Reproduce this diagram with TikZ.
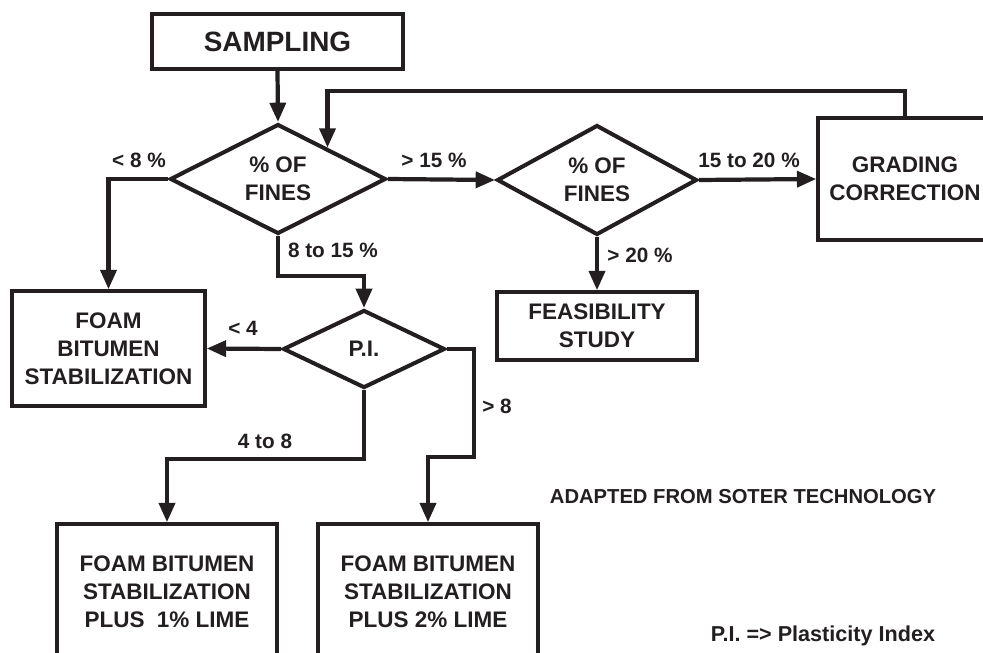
\documentclass[tikz,border=0pt]{standalone}
\usepackage{fontspec}
\setmainfont{Liberation Sans}
\usetikzlibrary{arrows.meta, positioning, shapes.geometric, calc}
\definecolor{cink}{HTML}{231F20}
\tikzset{
  every picture/.style={font=\bfseries, line width=2pt, draw=cink, text=cink},
  box/.style={draw=cink, rectangle, align=center, inner sep=0pt, font=\fontsize{12.8}{15.8}\selectfont\bfseries},
  test/.style={draw=cink, diamond, align=center, inner sep=0pt, line width=2.3pt, font=\fontsize{12.8}{15.8}\selectfont\bfseries},
  arrow/.style={-{Triangle[length=11pt, width=9pt]}, draw=cink, line width=2.4pt},
  lbl/.style={font=\fontsize{11.8}{14}\selectfont\bfseries, inner sep=0pt},
  note/.style={font=\fontsize{11.5}{14}\selectfont\bfseries, inner sep=0pt},
}
\begin{document}
\begin{tikzpicture}[x=0.02cm, y=-0.02cm]
  \useasboundingbox (0,0) rectangle (983,652);
  \clip (0,0) rectangle (983,652);
  % decision chain
  \node[box, minimum width=5.02cm, minimum height=1.1cm, font=\fontsize{15.9}{18}\selectfont\bfseries] (sampling) at (277.5,41.5) {SAMPLING};
  \node[test, minimum width=4.32cm, minimum height=2.06cm] (d1) at (278,179) {\% OF\\FINES};
  \node[test, minimum width=4.0cm, minimum height=2.08cm] (d2) at (597,180) {\% OF\\FINES};
  \node[test, minimum width=3.24cm, minimum height=1.56cm] (pi) at (364,349) {P.I.};
  % outcomes
  \node[box, minimum width=3.86cm, minimum height=2.3cm] (foam) at (108.5,348.5) {FOAM\\BITUMEN\\STABILIZATION};
  \node[box, minimum width=4.0cm, minimum height=1.36cm] (feas) at (597,326) {FEASIBILITY\\STUDY};
  \node[box, minimum width=3.48cm, minimum height=2.44cm] (grade) at (905,179) {GRADING\\CORRECTION};
  \node[box, minimum width=4.4cm, minimum height=2.72cm] (lime1) at (167,592) {FOAM BITUMEN\\STABILIZATION\\PLUS\ \ 1\% LIME};
  \node[box, minimum width=4.4cm, minimum height=2.72cm] (lime2) at (428,592) {FOAM BITUMEN\\STABILIZATION\\PLUS 2\% LIME};
  % connectors
  \draw[arrow] (sampling.south) -- (d1.north);
  \draw[arrow] (d1.east) -- (d2.west);
  \draw[arrow] (d2.east) -- (grade.west);
  \draw[arrow] (d2.south) -- (feas.north);
  \draw[arrow] (d1.west) -| (foam.north);
  \draw[arrow] (d1.south) -- ++(0,40) -| (pi.north);
  \draw[arrow] (pi.west) -- (foam.east);
  \draw[arrow] (pi.south) -- ++(0,69) -| (lime1.north);
  \draw[arrow] (pi.east) -- ++(27,0) -- ++(0,108) -| (lime2.north);
  \draw[arrow] (grade.north) -- ++(0,-25) -| ($(d1.north)!0.45!(d1.east)$);
  % branch labels
  \node[lbl] (l8) at (139,160) {< 8 \%};
  \node[lbl] (g15) at (434,160) {> 15 \%};
  \node[lbl] (r1520) at (749,160) {15 to 20 \%};
  \node[lbl] (g20) at (640,255) {> 20 \%};
  \node[lbl] (r815) at (333,250) {8 to 15 \%};
  \node[lbl] (l4) at (243,328) {< 4};
  \node[lbl] (g8) at (497,406) {> 8};
  \node[lbl] (r48) at (265,441) {4 to 8};
  % footnotes
  \node[note] (src) at (743,497) {ADAPTED FROM SOTER TECHNOLOGY};
  \node[note, font=\fontsize{12.3}{14}\selectfont\bfseries] (key) at (823,636) {P.I. => Plasticity Index};
\end{tikzpicture}
\end{document}
